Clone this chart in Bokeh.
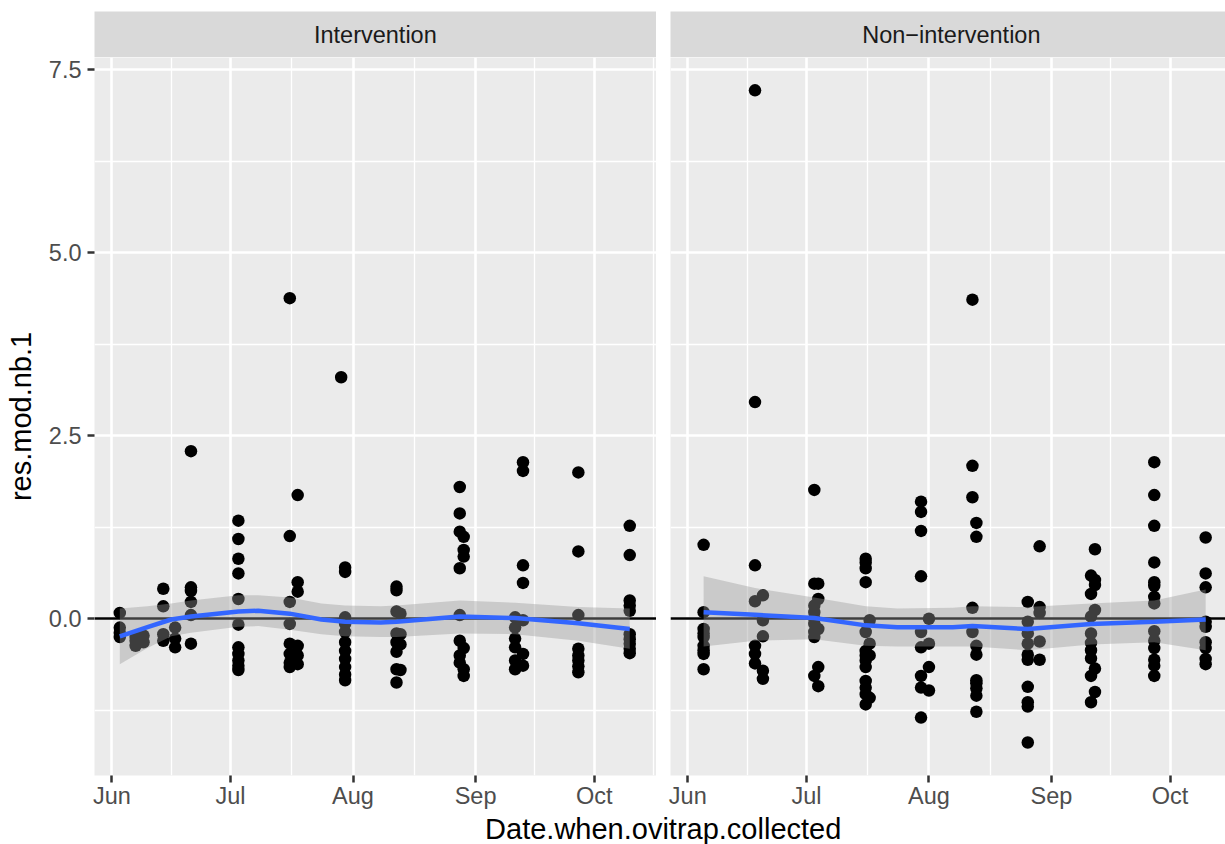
import pandas as pd
from bokeh.plotting import figure
from bokeh.layouts import row, column
from bokeh.models import Range1d, FixedTicker, DatetimeTickFormatter, Grid, PrintfTickFormatter
from bokeh.core.properties import value
from bokeh.embed import file_html
from bokeh.resources import INLINE

YEAR = 2017
panel_names = ["Intervention", "Non\u2212intervention"]
month_starts = ["06-01", "07-01", "08-01", "09-01", "10-01"]
y_ticks = [0.0, 2.5, 5.0, 7.5]
y_minor = [-1.25, 1.25, 3.75, 6.25]

# ---- Intervention residuals (grouped by collection date) ----
int_days = ["06-03", "06-07", "06-09", "06-14", "06-17", "06-21", "07-03", "07-16", "07-18",
            "07-29", "07-30", "08-12", "08-13", "08-28", "08-29", "09-11", "09-13", "09-27", "10-10"]
int_res = [
    [0.08, -0.12, -0.19, -0.25],
    [-0.25, -0.30, -0.37],
    [-0.23, -0.32],
    [0.41, 0.17, -0.21, -0.30],
    [-0.12, -0.27, -0.39],
    [2.29, 0.43, 0.38, 0.23, 0.05, -0.34],
    [1.34, 1.09, 0.82, 0.62, 0.27, -0.08, -0.39, -0.48, -0.57, -0.64, -0.70],
    [4.38, 1.13, 0.23, -0.07, -0.34, -0.48, -0.60, -0.66],
    [1.69, 0.50, 0.37, -0.37, -0.50, -0.62],
    [3.30],
    [0.70, 0.64, 0.02, -0.07, -0.18, -0.32, -0.44, -0.55, -0.66, -0.76, -0.84],
    [0.44, 0.39, 0.10, -0.20, -0.32, -0.45, -0.69, -0.87],
    [0.07, -0.21, -0.35, -0.70],
    [1.80, 1.44, 1.19, 0.69, 0.05, -0.30, -0.50, -0.60],
    [1.12, 0.94, 0.85, -0.40, -0.69, -0.78],
    [0.02, -0.12, -0.27, -0.39, -0.57, -0.69],
    [2.14, 2.02, 0.73, 0.49, -0.02, -0.48, -0.64],
    [2.00, 0.92, 0.05, -0.41, -0.50, -0.57, -0.65, -0.73],
    [1.27, 0.87, 0.25, 0.18, 0.11, -0.21, -0.28, -0.34, -0.41, -0.47],
]

# ---- Non-intervention residuals ----
non_days = ["06-05", "06-18", "06-20", "07-03", "07-04", "07-16", "07-17", "07-30", "08-01",
            "08-12", "08-13", "08-26", "08-29", "09-11", "09-12", "09-27", "10-10"]
non_res = [
    [1.01, 0.09, -0.14, -0.20, -0.25, -0.37, -0.43, -0.48, -0.69],
    [7.22, 2.96, 0.73, 0.24, -0.37, -0.48, -0.61],
    [0.32, -0.02, -0.24, -0.71, -0.82],
    [1.76, 0.48, 0.18, 0.09, 0.00, -0.07, -0.18, -0.25, -0.78],
    [0.48, 0.27, -0.14, -0.66, -0.92],
    [0.82, 0.77, 0.69, 0.50, -0.18, -0.44, -0.50, -0.57, -0.66, -0.85, -0.94, -1.03, -1.17],
    [-0.02, -0.34, -0.50, -1.08],
    [1.60, 1.46, 1.20, 0.58, -0.18, -0.39, -0.78, -0.94, -1.35],
    [0.00, -0.34, -0.66, -0.98],
    [4.36, 2.09, 1.66, 0.15, -0.18],
    [1.31, 1.12, -0.37, -0.49, -0.84, -0.88, -0.95, -1.05, -1.27],
    [0.23, -0.04, -0.20, -0.34, -0.49, -0.56, -0.93, -1.14, -1.20, -1.69],
    [0.99, 0.16, 0.08, -0.31, -0.56],
    [0.59, 0.34, 0.03, -0.20, -0.33, -0.43, -0.54, -0.78, -1.14],
    [0.95, 0.53, 0.46, 0.12, -0.68, -1.00],
    [2.14, 1.69, 1.27, 0.77, 0.50, 0.45, 0.30, 0.21, -0.17, -0.30, -0.40, -0.56, -0.64, -0.78],
    [1.11, 0.62, 0.43, -0.04, -0.11, -0.32, -0.40, -0.55, -0.62],
]

# ---- loess smooth ----
int_fit_days = ["06-03", "06-10", "06-16", "06-21", "07-03", "07-08", "07-16", "07-24", "07-30",
                "08-08", "08-12", "08-28", "09-11", "09-27", "10-10"]
int_fit = [-0.24, -0.115, -0.01, 0.03, 0.10, 0.11, 0.07, -0.01, -0.04, -0.05, -0.04, 0.03, 0.01, -0.06, -0.14]
int_lo = [-0.62, -0.40, -0.24, -0.19, -0.11, -0.10, -0.15, -0.21, -0.24, -0.25, -0.25, -0.20, -0.21, -0.30, -0.41]
int_hi = [0.14, 0.17, 0.21, 0.25, 0.32, 0.32, 0.29, 0.21, 0.18, 0.17, 0.18, 0.25, 0.22, 0.16, 0.14]

non_fit_days = ["06-05", "06-18", "07-03", "07-16", "07-24", "08-07", "08-12", "08-26", "09-11", "09-27", "10-10"]
non_fit = [0.09, 0.055, 0.01, -0.09, -0.115, -0.115, -0.10, -0.14, -0.07, -0.04, -0.01]
non_lo = [-0.38, -0.30, -0.28, -0.37, -0.38, -0.38, -0.38, -0.43, -0.35, -0.32, -0.43]
non_hi = [0.58, 0.42, 0.29, 0.17, 0.14, 0.15, 0.17, 0.16, 0.21, 0.25, 0.40]

# ---------------------------------------------------------------
DAY = 86400000.0
FONT = "Liberation Sans"
TICK_FS = "23.5px"
TITLE_FS = "29px"


def ms(md):
    return pd.Timestamp(f"{YEAR}-{md}").value / 1e6


major_ms = [ms(d) for d in month_starts]
minor_ms = [(a + b) / 2 for a, b in zip(major_ms[:-1], major_ms[1:])]
minor_ms = [major_ms[0] - (major_ms[1] - major_ms[0]) / 2] + minor_ms + [major_ms[-1] + (major_ms[-1] - major_ms[-2]) / 2]

PX_DAY = 3.953
PANEL_W = 561.7
ML_LEFT = 94
GAP = 14
FW_L = 562
FW_R = 1225 - ML_LEFT - FW_L - GAP
STRIP_H = 57
MAIN_FH = 718
MAIN_BB = 36
TITLE_H = 844 - STRIP_H - MAIN_FH - MAIN_BB

Y0, Y1 = -2.141, 7.668


def bare(**kw):
    f = figure(title=None, toolbar_location=None, output_backend="svg", outline_line_color=None,
               x_axis_location=None, y_axis_location=None, border_fill_color="white", **kw)
    f.xgrid.visible = False
    f.ygrid.visible = False
    return f


def strip(name, ml, fw):
    s = bare(width=ml + fw, height=STRIP_H, x_range=Range1d(0, fw), y_range=Range1d(0, 1),
             min_border_left=ml, min_border_right=0, min_border_top=11, min_border_bottom=0,
             background_fill_color="#D9D9D9")
    s.text(x=[PANEL_W / 2], y=[0.5], text=[name], text_align="center", text_baseline="middle",
           text_font=value(FONT), text_font_size=TICK_FS, text_color="#1A1A1A")
    return s


def panel(days, res, fdays, fit, lo, hi, ml, fw, x_start_days, show_y):
    jun1 = major_ms[0]
    xr = Range1d(jun1 + x_start_days * DAY, jun1 + (x_start_days + fw / PX_DAY) * DAY)
    p = figure(title=None, width=ml + fw, height=MAIN_FH + MAIN_BB, x_axis_type="datetime", x_range=xr,
               y_range=Range1d(Y0, Y1), min_border_left=ml, min_border_right=0, min_border_top=0,
               min_border_bottom=MAIN_BB, background_fill_color="#EBEBEB", border_fill_color="white",
               outline_line_color=None, y_axis_location="left" if show_y else None,
               toolbar_location=None, output_backend="svg")
    # grids
    p.xgrid.ticker = FixedTicker(ticks=major_ms)
    p.ygrid.ticker = FixedTicker(ticks=y_ticks)
    for g in (p.xgrid, p.ygrid):
        g.grid_line_color = "white"
        g.grid_line_width = 2.6
    p.add_layout(Grid(dimension=0, ticker=FixedTicker(ticks=minor_ms), grid_line_color="white", grid_line_width=1.3))
    p.add_layout(Grid(dimension=1, ticker=FixedTicker(ticks=y_minor), grid_line_color="white", grid_line_width=1.3))
    # x axis
    xa = p.xaxis[0]
    xa.ticker = FixedTicker(ticks=major_ms)
    fmt = "%b"
    xa.formatter = DatetimeTickFormatter(milliseconds=fmt, seconds=fmt, minsec=fmt, minutes=fmt, hourmin=fmt,
                                         hours=fmt, days=fmt, months=fmt, years=fmt)
    axes = [xa]
    if show_y:
        ya = p.yaxis[0]
        ya.ticker = FixedTicker(ticks=y_ticks)
        ya.formatter = PrintfTickFormatter(format="%.1f")
        ya.axis_label = "res.mod.nb.1"
        ya.axis_label_text_font = FONT
        ya.axis_label_text_font_size = TITLE_FS
        ya.axis_label_text_font_style = "normal"
        ya.axis_label_text_color = "black"
        ya.axis_label_standoff = 9
        ya.major_label_standoff = 6
        axes.append(ya)
    for a in axes:
        a.axis_line_color = None
        a.major_tick_out = 7
        a.major_tick_in = 0
        a.minor_tick_out = 0
        a.minor_tick_in = 0
        a.major_tick_line_color = "#333333"
        a.major_tick_line_width = 2.5
        a.major_label_text_color = "#4D4D4D"
        a.major_label_text_font = FONT
        a.major_label_text_font_size = TICK_FS
    xa.major_label_standoff = 0

    xs, ys = [], []
    for d, vals in zip(days, res):
        for v in vals:
            xs.append(ms(d))
            ys.append(v)
    p.scatter(xs, ys, size=12.5, color="black", line_width=0)
    p.hspan(y=[0], line_color="black", line_width=2.6)
    fx = [ms(d) for d in fdays]
    p.varea(x=fx, y1=lo, y2=hi, fill_color="#999999", fill_alpha=0.4)
    p.line(fx, fit, line_color="#3366FF", line_width=4.5)
    return p


sl = strip(panel_names[0], ML_LEFT, FW_L)
sr = strip(panel_names[1], GAP, FW_R)
pl = panel(int_days, int_res, int_fit_days, int_fit, int_lo, int_hi, ML_LEFT, FW_L, -4.40, True)
pr = panel(non_days, non_res, non_fit_days, non_fit, non_lo, non_hi, GAP, FW_R, -4.38, False)

t = bare(width=1225, height=TITLE_H, x_range=Range1d(0, 1225), y_range=Range1d(0, TITLE_H),
         min_border_left=0, min_border_right=0, min_border_top=0, min_border_bottom=0,
         background_fill_color="white")
t.text(x=[ML_LEFT + (PANEL_W * 2 + GAP) / 2], y=[0], text=["Date.when.ovitrap.collected"],
       text_align="center", text_baseline="bottom", text_font=value(FONT), text_font_size=TITLE_FS,
       text_color="black")

layout = column(row(sl, sr), row(pl, pr), t)
open("out.html", "w").write(file_html(layout, INLINE))
